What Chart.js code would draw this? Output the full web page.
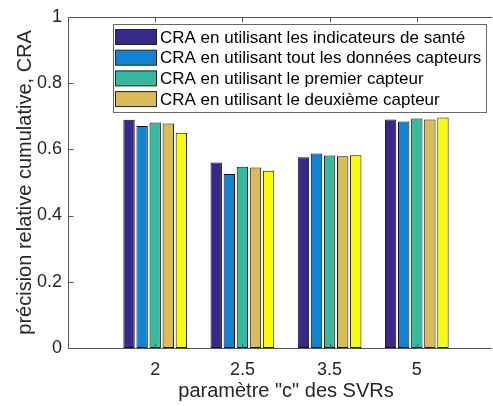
<!DOCTYPE html>
<html>
<head>
<meta charset="utf-8">
<script src="https://cdn.jsdelivr.net/npm/chart.js@4.4.1/dist/chart.umd.min.js"></script>
<style>
  html, body { margin: 0; padding: 0; background: #fff; overflow: hidden; }
  #wrap { width: 493px; height: 406px; overflow: hidden; }
</style>
</head>
<body>
<div id="wrap"><canvas id="craGrafico" width="515" height="406"></canvas></div>
<script>
// valeurs de CRA pour chaque valeur du parametre c
var categories = ['2', '2.5', '3.5', '5'];
var craSante = [0.689, 0.560, 0.576, 0.690];
var craToutesDonnees = [0.670, 0.525, 0.587, 0.684];
var craPremierCapteur = [0.681, 0.547, 0.581, 0.693];
var craDeuxiemeCapteur = [0.678, 0.545, 0.579, 0.690];
var craCinquieme = [0.650, 0.535, 0.582, 0.696];

var seriesLabels = [
    'CRA en utilisant les indicateurs de santé',
    'CRA en utilisant tout les données capteurs',
    'CRA en utilisant le premier capteur',
    'CRA en utilisant le deuxième capteur',
    ''
];
var seriesData = [craSante, craToutesDonnees, craPremierCapteur, craDeuxiemeCapteur, craCinquieme];
var seriesColors = ['#352a87', '#1283d4', '#38b89d', '#d9bb59', '#f9fb0e'];

var yTicks = [0, 0.2, 0.4, 0.6, 0.8, 1];

// une case vide de chaque cote pour avoir xlim [0 5]
var labels = [''].concat(categories, ['']);

var datasets = seriesData.map(function (vals, i) {
    return {
        label: seriesLabels[i],
        data: categories.map(function (c, j) { return { x: c, y: vals[j] }; }),
        backgroundColor: seriesColors[i],
        borderColor: '#111',
        borderWidth: 1,
        borderSkipped: false,
        categoryPercentage: 0.75,
        barPercentage: 0.87
    };
});

var axisColor = '#555';
var textColor = '#262626';

// axes gauche, haut, bas et graduations vers l'interieur
var boxAxes = {
    id: 'boxAxes',
    afterDatasetsDraw: function (chart) {
        var ctx = chart.ctx;
        var a = chart.chartArea;
        var x = chart.scales.x, y = chart.scales.y;
        var tl = 5;
        var l = Math.round(a.left) + 0.5, t = Math.round(a.top) + 0.5, b = Math.round(a.bottom) + 0.5;
        var r = Math.min(a.right, 492);
        ctx.save();
        ctx.strokeStyle = axisColor;
        ctx.lineWidth = 1;
        ctx.beginPath();
        ctx.moveTo(l, t); ctx.lineTo(r, t);
        ctx.moveTo(l, t); ctx.lineTo(l, b);
        ctx.moveTo(l, b); ctx.lineTo(r, b);
        ctx.stroke();
        ctx.beginPath();
        yTicks.forEach(function (v) {
            var py = Math.round(y.getPixelForValue(v)) + 0.5;
            ctx.moveTo(l, py); ctx.lineTo(l + tl, py);
        });
        categories.forEach(function (c) {
            var px = Math.round(x.getPixelForValue(labels.indexOf(c))) + 0.5;
            ctx.moveTo(px, b); ctx.lineTo(px, b - tl);
            ctx.moveTo(px, t); ctx.lineTo(px, t + tl);
        });
        ctx.stroke();
        ctx.restore();
    }
};

// legende encadree dans le coin haut droit
var boxLegend = {
    id: 'boxLegend',
    afterDraw: function (chart) {
        var ctx = chart.ctx;
        var bx = 113.5, by = 24.5, bw = 373, bh = 88;
        var rowH = 20.7;
        ctx.save();
        ctx.fillStyle = '#fff';
        ctx.fillRect(bx, by, bw, bh);
        ctx.strokeStyle = '#666';
        ctx.lineWidth = 1;
        ctx.strokeRect(bx, by, bw, bh);
        ctx.font = '17px "Liberation Sans", Arial, sans-serif';
        ctx.textBaseline = 'middle';
        var row = 0;
        chart.data.datasets.forEach(function (ds) {
            if (!ds.label) return;
            var sy = 29 + row * rowH;
            ctx.fillStyle = ds.backgroundColor;
            ctx.fillRect(115.5, sy + 0.5, 41, 15);
            ctx.strokeStyle = '#222';
            ctx.strokeRect(115.5, sy + 0.5, 41, 15);
            ctx.fillStyle = '#000';
            ctx.fillText(ds.label, 160, sy + 9);
            row++;
        });
        ctx.restore();
    }
};

var ctx = document.getElementById('craGrafico').getContext('2d');
var craChart = new Chart(ctx, {
    type: 'bar',
    data: { labels: labels, datasets: datasets },
    plugins: [boxAxes, boxLegend],
    options: {
        responsive: false,
        animation: false,
        devicePixelRatio: 1,
        layout: { padding: { left: 0, top: 16, right: 0, bottom: 0 } },
        plugins: {
            legend: { display: false },
            tooltip: { enabled: false }
        },
        scales: {
            x: {
                offset: false,
                grid: { display: false, drawTicks: false },
                border: { display: false },
                ticks: {
                    color: textColor,
                    font: { family: '"Liberation Sans", Arial, sans-serif', size: 18 },
                    padding: 11,
                    maxRotation: 0,
                    autoSkip: false
                },
                title: {
                    display: true,
                    text: 'paramètre "c" des SVRs',
                    color: textColor,
                    font: { family: '"Liberation Sans", Arial, sans-serif', size: 20 },
                    padding: { top: 0, bottom: 3 }
                },
                afterFit: function (s) { s.height = 58; }
            },
            y: {
                min: 0,
                max: 1,
                afterBuildTicks: function (s) {
                    s.ticks = yTicks.map(function (v) { return { value: v }; });
                },
                grid: { display: false, drawTicks: false },
                border: { display: false },
                ticks: {
                    color: textColor,
                    font: { family: '"Liberation Sans", Arial, sans-serif', size: 18 },
                    padding: 6,
                    callback: function (v) { return String(Math.round(v * 10) / 10); }
                },
                title: {
                    display: true,
                    text: 'précision relative cumulative, CRA',
                    color: textColor,
                    font: { family: '"Liberation Sans", Arial, sans-serif', size: 20 },
                    padding: { top: 13, bottom: 0 }
                },
                afterFit: function (s) { s.width = 68; }
            }
        }
    }
});
</script>
</body>
</html>
